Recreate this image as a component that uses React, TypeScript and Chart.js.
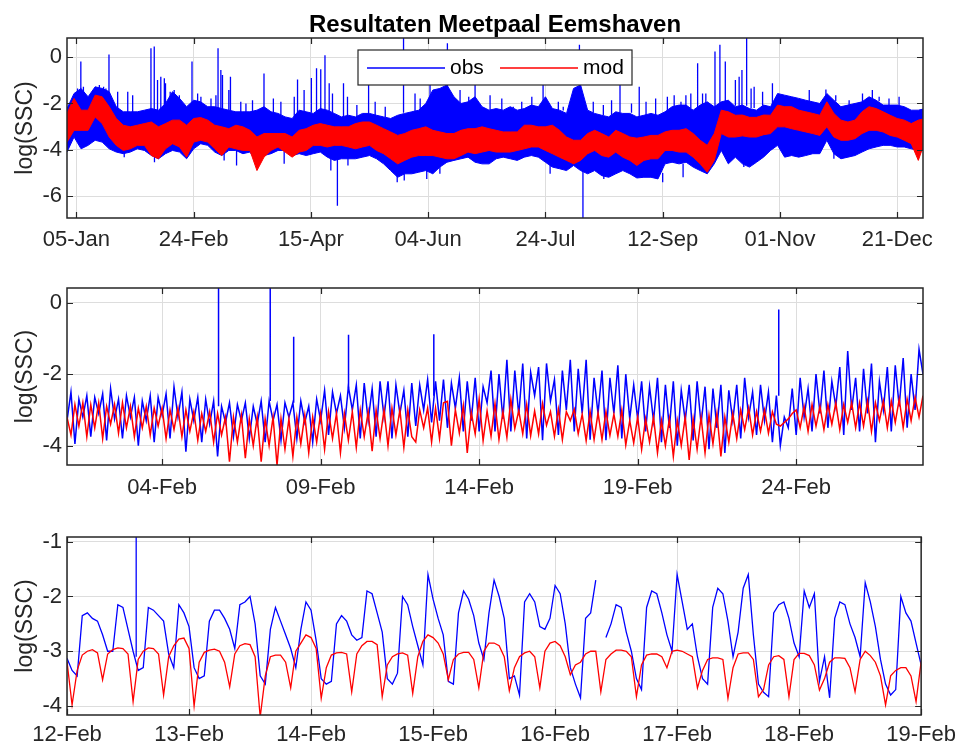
import React, { useEffect, useRef } from 'react';
import { Chart, registerables } from 'chart.js';

Chart.register(...registerables);

const FONT = '"Liberation Sans", Arial, Helvetica, sans-serif';
const OBS_COLOR = '#0000ff';
const MOD_COLOR = '#ff0000';
const AXIS_COLOR = '#262626';
const GRID_COLOR = '#dddddd';

const TITLE = 'Resultaten Meetpaal Eemshaven';
const Y_TITLE = 'log(SSC)';
const LEGEND_LABELS = ['obs', 'mod'];

// ---- Panel 1: the whole year (day 0 = 1 Jan), band envelopes every 3 days ----
const YEAR_STEP_DAYS = 3;
const YEAR_OBS_HIGH = [
  -2.22, -1.57, -1.35, -1.71, -1.28, -1.35, -1.49, -2.14, -2.36, -2.36,
  -2.36, -2.29, -2.22, -2.29, -2.0, -1.49, -1.78, -2.14, -1.86, -1.93,
  -2.14, -2.14, -2.22, -2.29, -2.36, -2.36, -2.36, -2.29, -2.14, -2.36,
  -2.43, -2.58, -2.65, -2.29, -2.36, -2.43, -2.22, -2.29, -2.43, -2.58,
  -2.51, -2.58, -2.43, -2.43, -2.51, -2.58, -2.65, -2.51, -2.43, -2.36,
  -2.29, -2.0, -1.42, -1.35, -1.2, -1.71, -2.0, -1.93, -1.71, -2.14,
  -2.29, -2.22, -2.29, -2.14, -2.29, -2.22, -2.07, -2.14, -1.71, -2.22,
  -2.29, -2.43, -1.35, -1.2, -2.29, -2.43, -2.51, -2.58, -2.36, -2.43,
  -2.43, -2.58, -2.51, -2.43, -2.51, -2.36, -2.14, -2.07, -2.07, -2.29,
  -2.07, -1.93, -2.14, -1.93, -1.86, -2.14, -2.07, -2.22, -2.29, -2.07,
  -2.14, -1.57, -1.64, -1.71, -1.78, -1.86, -1.93, -2.0, -1.57, -1.86,
  -2.14, -2.07, -2.0, -1.93, -1.71, -1.86, -2.07, -2.07, -2.07, -2.14,
  -2.29, -2.29, -2.22,
];
const YEAR_OBS_LOW = [
  -4.1, -3.45, -3.96, -3.81, -3.59, -3.67, -3.96, -4.1, -4.17, -4.1,
  -3.96, -4.03, -4.25, -4.39, -4.17, -4.03, -4.1, -4.39, -3.96, -3.74,
  -3.81, -4.1, -4.25, -4.03, -4.03, -4.17, -4.1, -4.54, -4.25, -4.17,
  -4.03, -4.03, -4.25, -4.17, -4.25, -4.17, -4.1, -4.32, -4.46, -4.39,
  -4.39, -4.39, -4.32, -4.25, -4.39, -4.61, -4.9, -5.19, -5.04, -5.04,
  -4.97, -4.9, -5.04, -4.75, -4.54, -4.46, -4.39, -4.32, -4.54, -4.61,
  -4.61, -4.39, -4.32, -4.39, -4.46, -4.32, -4.25, -4.32, -4.54, -4.75,
  -4.82, -4.9, -4.68, -4.9, -5.04, -4.9, -5.12, -5.19, -5.04, -4.9,
  -5.04, -5.22, -5.19, -5.19, -5.26, -4.61, -4.54, -4.61, -4.54, -4.75,
  -4.9, -5.04, -4.61, -4.03, -4.61, -4.32, -4.61, -4.75, -4.54, -4.32,
  -4.03, -3.81, -4.32, -4.25, -4.32, -4.25, -4.17, -4.17, -3.59, -4.17,
  -4.39, -4.32, -4.25, -4.1, -3.96, -3.88, -3.81, -3.81, -3.88, -3.88,
  -3.96, -4.03, -3.96,
];
const YEAR_MOD_HIGH = [
  -2.43, -1.78, -2.29, -2.29, -1.64, -1.71, -2.14, -2.65, -2.94, -3.01,
  -2.94, -2.87, -2.8, -3.01, -2.87, -2.72, -2.72, -2.94, -2.65, -2.61,
  -2.72, -2.94, -3.01, -3.09, -2.94, -3.01, -3.16, -3.45, -3.3, -3.3,
  -3.3, -3.3, -3.45, -3.16, -3.09, -2.94, -2.87, -2.94, -3.01, -3.01,
  -3.01, -2.87, -2.8, -2.8, -2.94, -3.09, -3.23, -3.38, -3.3, -3.16,
  -3.09, -3.01, -3.16, -3.23, -3.3, -3.3, -3.16, -3.09, -3.09, -3.01,
  -3.09, -3.16, -3.23, -3.23, -3.23, -2.94, -2.94, -3.01, -3.01, -2.94,
  -3.16, -3.45, -3.59, -3.59, -3.3, -3.16, -3.3, -3.45, -3.16, -3.3,
  -3.45, -3.5, -3.45, -3.38, -3.38, -3.23, -3.16, -3.16, -3.09, -3.3,
  -3.59, -3.81, -3.3, -2.29, -2.36, -2.51, -2.5, -2.6, -2.6, -2.5,
  -2.51, -2.07, -2.14, -2.14, -2.29, -2.36, -2.43, -2.51, -1.93, -2.43,
  -2.72, -2.8, -2.72, -2.36, -2.14, -2.22, -2.36, -2.51, -2.65, -2.72,
  -2.87, -2.72, -2.65,
];
const YEAR_MOD_LOW = [
  -3.67, -3.16, -3.16, -3.16, -2.58, -2.87, -3.45, -3.81, -4.03, -3.96,
  -3.81, -3.81, -4.25, -4.39, -3.96, -3.74, -3.88, -4.32, -3.67, -3.59,
  -3.67, -3.96, -4.25, -3.88, -3.96, -4.03, -4.03, -4.9, -4.32, -4.03,
  -3.88, -4.1, -4.32, -4.1, -4.03, -3.81, -3.81, -3.88, -3.81, -3.81,
  -3.88, -3.96, -3.88, -3.81, -4.03, -4.17, -4.39, -4.61, -4.46, -4.32,
  -4.25, -4.25, -4.25, -4.32, -4.39, -4.39, -4.25, -4.1, -4.17, -4.1,
  -4.03, -4.1, -4.1, -4.1, -4.03, -3.96, -3.88, -3.88, -4.03, -4.17,
  -4.32, -4.46, -4.61, -4.46, -4.17, -4.03, -4.25, -4.32, -4.1, -4.32,
  -4.46, -4.68, -4.46, -4.39, -4.39, -4.03, -4.03, -4.1, -4.1, -4.32,
  -4.61, -4.97, -4.46, -3.3, -3.45, -3.45, -3.4, -3.45, -3.45, -3.35,
  -3.3, -3.01, -3.01, -3.09, -3.16, -3.23, -3.3, -3.38, -3.01, -3.45,
  -3.59, -3.59, -3.52, -3.3, -3.16, -3.16, -3.23, -3.38, -3.45, -3.59,
  -3.74, -4.46, -3.59,
];
// isolated measurement needles sticking out of the band: [day, from, to]
const YEAR_OBS_SPIKES: [number, number, number][] = [
  [4.5, -2.5, -1.35], [5.9, -2.2, -0.19], [7.0, -2.5, -1.28], [13.8, -2.5, -1.2],
  [15.6, -2.5, -1.28], [16.6, -2.5, -1.35], [17.9, -2.0, 0.12], [21.6, -2.3, -1.49],
  [24.4, -3.9, -4.32], [25.9, -2.5, -1.49], [28.0, -2.5, -1.64], [35.8, -2.4, 0.39],
  [37.2, -2.4, 0.46], [37.3, -4.0, -4.54], [38.6, -2.5, -0.99], [40.0, -2.4, -0.84],
  [41.5, -2.4, -0.91], [42.0, -2.3, -1.13], [44.0, -2.3, -1.49], [45.7, -2.3, -1.42],
  [47.9, -2.3, -1.64], [53.3, -2.2, -0.19], [55.7, -2.2, -1.57], [57.1, -2.2, -1.71],
  [61.4, -2.3, -1.78], [63.5, -2.3, -1.64], [64.4, -2.4, 0.39], [65.6, -2.4, -0.55],
  [66.3, -2.4, -0.77], [67.0, -4.0, -4.46], [69.0, -2.4, -1.42], [69.7, -2.4, -0.84],
  [72.3, -3.9, -4.68], [74.1, -2.5, -1.93], [76.3, -2.5, -2.0], [79.1, -2.5, -1.86],
  [84.0, -2.3, -0.7], [88.0, -2.4, -1.78], [91.2, -2.5, -1.93], [92.6, -4.0, -4.6],
  [96.9, -2.6, -1.71], [98.3, -2.5, -0.96], [101.1, -2.5, -1.42], [104.2, -2.4, -0.9],
  [106.4, -2.4, -0.48], [108.2, -2.3, -0.52], [110.0, -2.3, 0.08], [111.8, -2.4, -1.13],
  [112.5, -4.2, -4.9], [113.2, -2.4, -1.57], [115.3, -4.3, -6.42], [117.9, -2.6, -1.13],
  [119.6, -2.6, -1.71], [119.8, -4.3, -4.68], [123.6, -2.6, -2.07], [128.6, -2.5, -1.2],
  [131.4, -2.5, -1.93], [135.7, -2.6, -2.14], [140.8, -4.9, -5.4], [143.5, -2.4, 0.85],
  [143.8, -4.9, -5.33], [148.4, -2.4, -1.57], [150.6, -2.3, -1.78], [153.4, -4.8, -5.26],
  [154.8, -2.2, -1.13], [159.0, -4.7, -5.04], [162.2, -1.6, 0.6], [167.6, -2.0, -1.42],
  [171.3, -2.0, -1.71], [174.0, -2.0, -1.2], [180.4, -2.3, -1.64], [185.4, -2.3, -1.78],
  [190.3, -2.2, -2.14], [193.9, -2.3, -1.93], [198.2, -2.1, -1.71], [203.0, -2.0, -1.2],
  [206.0, -4.5, -5.04], [209.5, -2.3, -1.93], [211.6, -2.3, -2.14], [218.5, -1.4, 0.54],
  [220.0, -4.9, -6.95], [224.4, -2.4, -1.93], [228.7, -2.5, -2.07], [228.9, -5.0, -5.26],
  [232.2, -2.5, -1.86], [235.8, -2.4, -1.2], [240.7, -2.4, -2.0], [244.0, -2.6, -1.28],
  [246.9, -2.5, -1.93], [251.0, -2.5, -1.78], [254.0, -5.0, -5.4], [256.0, -2.3, -1.71],
  [258.9, -2.3, -1.64], [261.8, -2.1, -1.93], [262.7, -4.6, -5.19], [263.9, -2.1, -1.64],
  [266.0, -2.2, -1.57], [268.9, -2.3, -0.26], [271.0, -2.1, -1.57], [272.4, -2.1, -1.57],
  [276.3, -2.2, 0.25], [278.4, -2.1, 0.54], [280.7, -2.0, -0.19], [285.0, -2.1, -0.99],
  [286.6, -2.1, -0.84], [287.8, -2.1, -0.55], [288.6, -4.6, -4.75], [289.8, -2.1, 0.85],
  [291.7, -2.2, -1.35], [293.0, -2.2, -1.28], [296.6, -2.1, -1.49], [300.8, -2.2, -1.13],
  [316.5, -1.9, -1.42], [323.6, -1.8, -1.4], [327.0, -4.1, -4.39], [327.8, -1.9, -1.64],
  [333.5, -2.1, -1.86], [339.2, -2.0, -1.57], [343.4, -1.8, -1.42], [346.3, -1.9, -1.71],
  [350.5, -2.1, -1.78], [354.8, -2.1, -1.71],
];
const YEAR_TICK_DAYS = [4, 54, 104, 154, 204, 254, 304, 354];
const YEAR_TICK_LABELS = ['05-Jan', '24-Feb', '15-Apr', '04-Jun', '24-Jul', '12-Sep', '01-Nov', '21-Dec'];
const YEAR_Y_TICKS = [0, -2, -4, -6];

// ---- Panel 2: February (day 0 = 1 Feb), 3-hourly values ----
const FEB_STEP_DAYS = 0.125;
const FEB_OBS = [
  -3.3, -2.5, -3.95, -2.7, -3.2, -2.6, -3.75, -2.65,
  -3.1, -2.55, -3.85, -2.4, -3.25, -2.7, -3.8, -2.6,
  -3.2, -2.65, -4.0, -2.75, -3.3, -2.6, -3.9, -2.65,
  -3.15, -2.55, -3.8, -2.35, -3.2, -2.5, -4.17, -2.7,
  -3.3, -2.65, -3.9, -2.7, -3.4, -2.75, -4.3, -2.9,
  -3.35, -2.8, -3.75, -2.85, -3.3, -2.8, -3.8, -2.9,
  -3.4, -2.75, -3.9, -2.75, -3.3, -2.85, -3.85, -2.8,
  -3.2, -2.8, -3.8, -2.75, -3.35, -2.9, -3.9, -2.7,
  -3.3, -2.45, -3.7, -2.5, -3.1, -2.6, -3.5, -2.35,
  -3.0, -2.3, -3.8, -2.25, -3.3, -2.4, -3.75, -2.2,
  -3.2, -2.2, -3.8, -2.3, -3.1, -2.45, -3.75, -2.25,
  -3.45, -2.3, -3.0, -2.15, -3.35, -2.2, -3.3, -2.15,
  -3.5, -2.25, -2.95, -2.1, -3.6, -2.2, -3.3, -2.1,
  -3.6, -2.35, -2.8, -1.9, -3.6, -2.0, -3.25, -1.6,
  -3.6, -1.9, -3.15, -1.7, -3.8, -1.95, -2.6, -1.8,
  -3.85, -1.7, -2.75, -2.15, -3.7, -1.9, -3.0, -1.6,
  -3.6, -1.85, -3.1, -1.6, -3.83, -2.1, -3.1, -1.9,
  -3.85, -2.1, -3.1, -1.75, -3.8, -2.0, -3.25, -2.3,
  -3.25, -2.2, -3.6, -2.35, -3.3, -2.1, -3.9, -2.3,
  -3.5, -2.2, -4.0, -2.45, -3.3, -2.3, -3.85, -2.2,
  -3.4, -2.35, -4.1, -2.4, -3.5, -2.3, -4.2, -2.45,
  -3.3, -2.3, -3.8, -2.1, -3.2, -2.5, -3.7, -2.3,
  -3.3, -2.5, -3.9, -2.6, -4.0, -3.2, -3.5, -2.4,
  -3.7, -2.1, -3.2, -2.4, -3.6, -2.0, -3.1, -1.9,
  -3.5, -2.2, -2.9, -1.8, -3.7, -1.35, -3.0, -2.1,
  -3.6, -1.85, -3.1, -1.7, -3.9, -2.2, -3.0, -1.8,
  -3.6, -1.75, -2.9, -1.55, -3.5, -2.0, -3.0, -1.3,
  -2.0,
];
const FEB_MOD = [
  -3.2, -3.7, -2.85, -3.45, -2.8, -3.75, -2.85, -3.5,
  -2.8, -3.8, -2.9, -3.4, -2.85, -3.65, -2.8, -3.5,
  -2.9, -3.75, -2.95, -3.5, -2.9, -3.7, -2.95, -3.45,
  -2.95, -3.8, -3.0, -3.55, -2.95, -3.75, -3.0, -3.6,
  -3.05, -3.85, -3.1, -3.6, -3.05, -3.9, -3.1, -3.7,
  -3.2, -4.45, -3.2, -3.9, -3.15, -4.35, -3.25, -4.0,
  -3.2, -4.45, -3.25, -4.0, -3.2, -4.55, -3.25, -4.1,
  -3.25, -4.3, -3.2, -3.95, -3.15, -4.2, -3.2, -3.9,
  -3.1, -4.1, -3.05, -3.8, -3.1, -4.2, -3.1, -3.85,
  -3.05, -4.05, -3.0, -3.75, -3.05, -4.15, -3.0, -3.8,
  -3.0, -4.0, -2.95, -3.7, -3.0, -4.05, -3.0, -3.75,
  -3.9, -3.0, -3.5, -2.95, -3.9, -2.95, -3.8, -2.8,
  -2.76, -4.0, -3.0, -3.65, -2.88, -4.2, -3.07, -3.67,
  -2.7, -3.86, -3.03, -3.74, -2.82, -3.83, -3.05, -3.77,
  -2.7, -3.52, -3.02, -3.67, -2.85, -3.72, -3.03, -3.67,
  -2.82, -3.43, -3.05, -3.74, -2.98, -3.83, -3.05, -3.3,
  -2.98, -3.67, -3.12, -3.86, -3.05, -3.83, -3.08, -3.83,
  -3.04, -3.71, -3.12, -3.74, -3.0, -3.98, -3.3, -3.92,
  -3.2, -4.1, -3.25, -3.9, -3.2, -4.2, -3.3, -4.0,
  -3.25, -4.3, -3.3, -4.0, -3.2, -4.4, -3.25, -4.1,
  -3.2, -4.2, -3.15, -3.95, -3.1, -4.3, -3.2, -3.9,
  -3.1, -3.8, -3.0, -3.55, -2.95, -3.7, -3.05, -3.6,
  -3.0, -3.65, -3.05, -3.4, -3.45, -3.35, -3.25, -3.1,
  -3.0, -3.5, -2.9, -3.6, -2.85, -3.45, -2.9, -3.55,
  -2.85, -3.4, -2.8, -3.55, -2.85, -3.35, -2.8, -3.5,
  -2.8, -3.45, -2.75, -3.6, -2.8, -3.3, -2.75, -3.5,
  -2.75, -3.35, -2.7, -3.5, -2.7, -3.3, -2.65, -3.2,
  -2.6,
];
const FEB_OBS_SPIKES: [number, number, number][] = [
  [4.78, -2.9, 0.6], [6.41, -2.75, 0.6], [7.15, -2.8, -0.95],
  [8.88, -2.4, -0.9], [11.57, -2.6, -0.88], [22.45, -2.6, -0.19],
];
const FEB_TICK_DAYS = [3, 8, 13, 18, 23];
const FEB_TICK_LABELS = ['04-Feb', '09-Feb', '14-Feb', '19-Feb', '24-Feb'];
const FEB_Y_TICKS = [0, -2, -4];

// ---- Panel 3: 12-19 February (day 0 = 12 Feb), hourly values ----
const WEEK_STEP_DAYS = 1 / 24;
const WEEK_OBS: (number | null)[] = [
  -3.13, -3.35, -3.45, -2.35, -2.3, -2.4, -2.45, -2.7, -3.0, -3.0,
  -2.15, -2.2, -2.6, -3.0, -3.35, -3.3, -2.2, -2.25, -2.35, -2.45,
  -3.05, -3.3, -2.15, -2.3, -2.55, -3.3, -3.5, -3.45, -2.45, -2.25,
  -2.25, -2.4, -2.6, -2.95, -2.15, -2.1, -2.0, -2.5, -3.45, -3.6,
  -2.6, -2.2, -2.45, -2.7, -2.95, -3.3, -2.6, -2.1, -2.25, -2.8,
  -3.5, -3.6, -3.55, -2.5, -2.35, -2.45, -2.7, -2.8, -2.75, -1.9,
  -1.95, -2.3, -2.65, -3.5, -3.6, -3.4, -2.0, -2.15, -2.55, -2.9,
  -3.25, -1.6, -2.05, -2.4, -2.7, -3.55, -3.6, -2.3, -1.9, -2.05,
  -2.35, -2.85, -3.15, -2.3, -1.7, -2.0, -2.4, -3.5, -3.45, -3.8,
  -2.1, -1.95, -2.1, -2.55, -2.6, -2.4, -1.8, -1.95, -2.5, -3.3,
  -3.6, -3.85, -2.4, -2.3, -1.7, null, -2.75, -2.5, -2.15, -2.2,
  -2.65, -3.0, -3.5, -3.7, -2.2, -1.9, -1.95, -2.3, -2.7, -3.0,
  -1.6, -2.1, -2.6, -2.5, -3.1, -3.5, -3.6, -2.2, -1.85, -1.95,
  -2.45, -3.1, -2.65, -1.85, -1.6, -2.7, -3.6, -3.75, -3.83, -2.3,
  -2.15, -2.1, -2.4, -2.85, -3.1, -1.9, -2.2, -1.95, -3.55, -3.1,
  -3.85, -2.4, -2.1, -2.15, -2.5, -2.75, -3.1, -1.75, -2.1, -2.55,
  -3.15, -3.6, -3.8, -3.7, -2.0, -2.3, -2.45, -2.85, -3.25,
];
const WEEK_MOD = [
  -3.19, -3.98, -3.35, -3.07, -3.0, -2.97, -3.03, -3.52, -3.05, -2.97,
  -2.94, -2.95, -3.05, -3.92, -3.15, -3.0, -2.94, -2.95, -3.05, -3.8,
  -3.1, -2.9, -2.78, -2.76, -2.95, -4.0, -3.2, -3.02, -2.98, -2.96,
  -3.0, -3.2, -3.65, -3.05, -2.9, -2.86, -2.88, -3.1, -4.2, -3.45,
  -3.1, -3.07, -3.07, -3.2, -3.67, -3.0, -2.85, -2.7, -2.75, -2.95,
  -3.86, -3.3, -3.07, -3.03, -3.02, -3.05, -3.74, -3.05, -2.9, -2.82,
  -2.82, -2.88, -3.83, -3.25, -3.1, -3.05, -3.03, -3.07, -3.77, -3.1,
  -2.82, -2.7, -2.75, -2.85, -3.05, -3.52, -3.15, -3.05, -3.02, -3.02,
  -3.15, -3.67, -3.0, -2.85, -2.85, -2.9, -3.1, -3.72, -3.3, -3.1,
  -3.03, -3.0, -3.1, -3.67, -3.0, -2.85, -2.82, -2.9, -3.1, -3.43,
  -3.25, -3.2, -3.05, -3.0, -3.0, -3.74, -3.15, -3.05, -2.98, -2.98,
  -3.0, -3.1, -3.83, -3.25, -3.07, -3.05, -3.05, -3.1, -3.3, -3.0,
  -2.98, -3.0, -3.05, -3.1, -3.67, -3.35, -3.15, -3.12, -3.12, -3.15,
  -3.86, -3.3, -3.05, -3.03, -3.03, -3.15, -3.83, -3.7, -3.25, -3.1,
  -3.08, -3.15, -3.83, -3.15, -3.04, -3.04, -3.08, -3.25, -3.71, -3.5,
  -3.2, -3.12, -3.12, -3.13, -3.3, -3.74, -3.15, -3.0, -3.08, -3.2,
  -3.45, -3.98, -3.45, -3.35, -3.3, -3.3, -3.45, -3.92, -3.19,
];
const WEEK_OBS_SPIKES: [number, number, number][] = [[0.567, -3.1, -0.88]];
const WEEK_TICK_DAYS = [0, 1, 2, 3, 4, 5, 6, 7];
const WEEK_TICK_LABELS = ['12-Feb', '13-Feb', '14-Feb', '15-Feb', '16-Feb', '17-Feb', '18-Feb', '19-Feb'];
const WEEK_Y_TICKS = [-1, -2, -3, -4];

type Pt = { x: number; y: number | null };

function toPoints(values: (number | null)[], step: number): Pt[] {
  return values.map((y, i) => ({ x: i * step, y }));
}

function spikePoints(spikes: [number, number, number][]): Pt[] {
  const pts: Pt[] = [];
  spikes.forEach(([x, from, to]) => {
    pts.push({ x, y: from }, { x, y: to }, { x, y: null });
  });
  return pts;
}

function lineSet(data: Pt[], color: string, width: number, order: number, fill: any = false) {
  return {
    data,
    borderColor: color,
    backgroundColor: color,
    borderWidth: width,
    pointRadius: 0,
    tension: 0,
    spanGaps: false,
    fill,
    order,
  };
}

interface PanelSpec {
  top: number;
  height: number;
  padTop: number;
  xAxisHeight: number;
  labelPad: number;
  xMin: number;
  xMax: number;
  xTicks: number[];
  xLabels: string[];
  yMin: number;
  yMax: number;
  yTicks: number[];
  datasets: any[];
  title?: string;
  legend?: boolean;
}

const PANELS: PanelSpec[] = [
  {
    top: 0,
    height: 262,
    padTop: 38,
    xAxisHeight: 44,
    labelPad: 9,
    xMin: 0,
    xMax: 365,
    xTicks: YEAR_TICK_DAYS,
    xLabels: YEAR_TICK_LABELS,
    yMin: -6.95,
    yMax: 0.83,
    yTicks: YEAR_Y_TICKS,
    title: TITLE,
    legend: true,
    datasets: [
      lineSet(toPoints(YEAR_OBS_HIGH, YEAR_STEP_DAYS), OBS_COLOR, 1, 1),
      lineSet(toPoints(YEAR_OBS_LOW, YEAR_STEP_DAYS), OBS_COLOR, 1, 1, '-1'),
      lineSet(spikePoints(YEAR_OBS_SPIKES), OBS_COLOR, 1.3, 1),
      lineSet(toPoints(YEAR_MOD_HIGH, YEAR_STEP_DAYS), MOD_COLOR, 1, 0),
      lineSet(toPoints(YEAR_MOD_LOW, YEAR_STEP_DAYS), MOD_COLOR, 1, 0, '-1'),
    ],
  },
  {
    top: 262,
    height: 248,
    padTop: 26,
    xAxisHeight: 45,
    labelPad: 10,
    xMin: 0,
    xMax: 27,
    xTicks: FEB_TICK_DAYS,
    xLabels: FEB_TICK_LABELS,
    yMin: -4.54,
    yMax: 0.41,
    yTicks: FEB_Y_TICKS,
    datasets: [
      lineSet(toPoints(FEB_OBS, FEB_STEP_DAYS), OBS_COLOR, 1.5, 1),
      lineSet(spikePoints(FEB_OBS_SPIKES), OBS_COLOR, 1.5, 1),
      lineSet(toPoints(FEB_MOD, FEB_STEP_DAYS), MOD_COLOR, 1.5, 0),
    ],
  },
  {
    top: 510,
    height: 237,
    padTop: 27,
    xAxisHeight: 32,
    labelPad: 7,
    xMin: 0,
    xMax: 7,
    xTicks: WEEK_TICK_DAYS,
    xLabels: WEEK_TICK_LABELS,
    yMin: -4.164,
    yMax: -0.914,
    yTicks: WEEK_Y_TICKS,
    datasets: [
      lineSet(toPoints(WEEK_OBS, WEEK_STEP_DAYS), OBS_COLOR, 1.3, 1),
      lineSet(spikePoints(WEEK_OBS_SPIKES), OBS_COLOR, 1.3, 1),
      lineSet(toPoints(WEEK_MOD, WEEK_STEP_DAYS), MOD_COLOR, 1.3, 0),
    ],
  },
];

// Axes box with inward tick marks, rotated y title, optional title and legend
function framePlugin(spec: PanelSpec) {
  return {
    id: 'frame',
    afterDraw(chart: any) {
      const { ctx, chartArea: a, scales } = chart;
      ctx.save();
      ctx.strokeStyle = AXIS_COLOR;
      ctx.lineWidth = 1.2;
      const tl = 6;
      ctx.beginPath();
      spec.xTicks.forEach((v) => {
        const px = Math.round(scales.x.getPixelForValue(v)) + 0.5;
        ctx.moveTo(px, a.top);
        ctx.lineTo(px, a.top + tl);
        ctx.moveTo(px, a.bottom);
        ctx.lineTo(px, a.bottom - tl);
      });
      spec.yTicks.forEach((v) => {
        const py = Math.round(scales.y.getPixelForValue(v)) + 0.5;
        ctx.moveTo(a.left, py);
        ctx.lineTo(a.left + tl, py);
        ctx.moveTo(a.right, py);
        ctx.lineTo(a.right - tl, py);
      });
      ctx.stroke();
      ctx.lineWidth = 1.5;
      ctx.strokeRect(a.left, a.top, a.right - a.left, a.bottom - a.top);

      // y axis title
      ctx.save();
      ctx.translate(26, (a.top + a.bottom) / 2);
      ctx.rotate(-Math.PI / 2);
      ctx.fillStyle = AXIS_COLOR;
      ctx.font = `23px ${FONT}`;
      ctx.textAlign = 'center';
      ctx.textBaseline = 'middle';
      ctx.fillText(Y_TITLE, 0, 0);
      ctx.restore();

      const cx = (a.left + a.right) / 2;
      if (spec.title) {
        ctx.fillStyle = '#000';
        ctx.font = `bold 24px ${FONT}`;
        ctx.textAlign = 'center';
        ctx.textBaseline = 'alphabetic';
        ctx.fillText(spec.title, cx, 31.5);
      }

      if (spec.legend) {
        const w = 274;
        const h = 35;
        const x0 = cx - w / 2;
        const y0 = a.top + 12;
        ctx.fillStyle = '#fff';
        ctx.fillRect(x0, y0, w, h);
        ctx.strokeStyle = AXIS_COLOR;
        ctx.lineWidth = 1.2;
        ctx.strokeRect(x0, y0, w, h);
        const ly = y0 + 18;
        const entries = [
          { label: LEGEND_LABELS[0], color: OBS_COLOR, x: x0 + 9 },
          { label: LEGEND_LABELS[1], color: MOD_COLOR, x: x0 + 142 },
        ];
        ctx.font = `21px ${FONT}`;
        ctx.textAlign = 'left';
        ctx.textBaseline = 'middle';
        entries.forEach((e) => {
          ctx.strokeStyle = e.color;
          ctx.lineWidth = 1.5;
          ctx.beginPath();
          ctx.moveTo(e.x, ly);
          ctx.lineTo(e.x + 78, ly);
          ctx.stroke();
          ctx.fillStyle = '#000';
          ctx.fillText(e.label, e.x + 83, ly);
        });
      }
      ctx.restore();
    },
  };
}

function buildConfig(spec: PanelSpec): any {
  const tickFont = { family: FONT, size: 22 };
  return {
    type: 'line',
    data: { datasets: spec.datasets },
    options: {
      responsive: false,
      animation: false,
      devicePixelRatio: 1,
      events: [],
      layout: { padding: { left: 0, right: 40, top: spec.padTop, bottom: 0 } },
      plugins: {
        legend: { display: false },
        title: { display: false },
        tooltip: { enabled: false },
      },
      scales: {
        x: {
          type: 'linear',
          min: spec.xMin,
          max: spec.xMax,
          afterBuildTicks: (s: any) => {
            s.ticks = spec.xTicks.map((v) => ({ value: v }));
          },
          afterFit: (s: any) => {
            s.height = spec.xAxisHeight;
          },
          ticks: {
            autoSkip: false,
            maxRotation: 0,
            minRotation: 0,
            padding: spec.labelPad,
            color: AXIS_COLOR,
            font: tickFont,
            callback: (v: number) => {
              const i = spec.xTicks.indexOf(v);
              return i >= 0 ? spec.xLabels[i] : '';
            },
          },
          grid: { color: GRID_COLOR, lineWidth: 1, drawTicks: false },
          border: { display: false },
        },
        y: {
          type: 'linear',
          min: spec.yMin,
          max: spec.yMax,
          afterBuildTicks: (s: any) => {
            s.ticks = spec.yTicks.map((v) => ({ value: v }));
          },
          afterFit: (s: any) => {
            s.width = 67;
          },
          ticks: {
            autoSkip: false,
            padding: 5,
            color: AXIS_COLOR,
            font: tickFont,
            callback: (v: number) => String(v),
          },
          grid: { color: GRID_COLOR, lineWidth: 1, drawTicks: false },
          border: { display: false },
        },
      },
    },
    plugins: [framePlugin(spec)],
  };
}

function Panel({ spec }: { spec: PanelSpec }) {
  const ref = useRef<HTMLCanvasElement | null>(null);
  useEffect(() => {
    if (!ref.current) return;
    const chart = new Chart(ref.current, buildConfig(spec));
    return () => chart.destroy();
  }, [spec]);
  return (
    <canvas
      ref={ref}
      width={963}
      height={spec.height}
      style={{ position: 'absolute', left: 0, top: spec.top, width: 963, height: spec.height }}
    />
  );
}

export default function App() {
  return (
    <div
      style={{
        position: 'absolute',
        left: 0,
        top: 0,
        width: 963,
        height: 747,
        background: '#ffffff',
        overflow: 'hidden',
      }}
    >
      {PANELS.map((p, i) => (
        <Panel key={i} spec={p} />
      ))}
    </div>
  );
}
